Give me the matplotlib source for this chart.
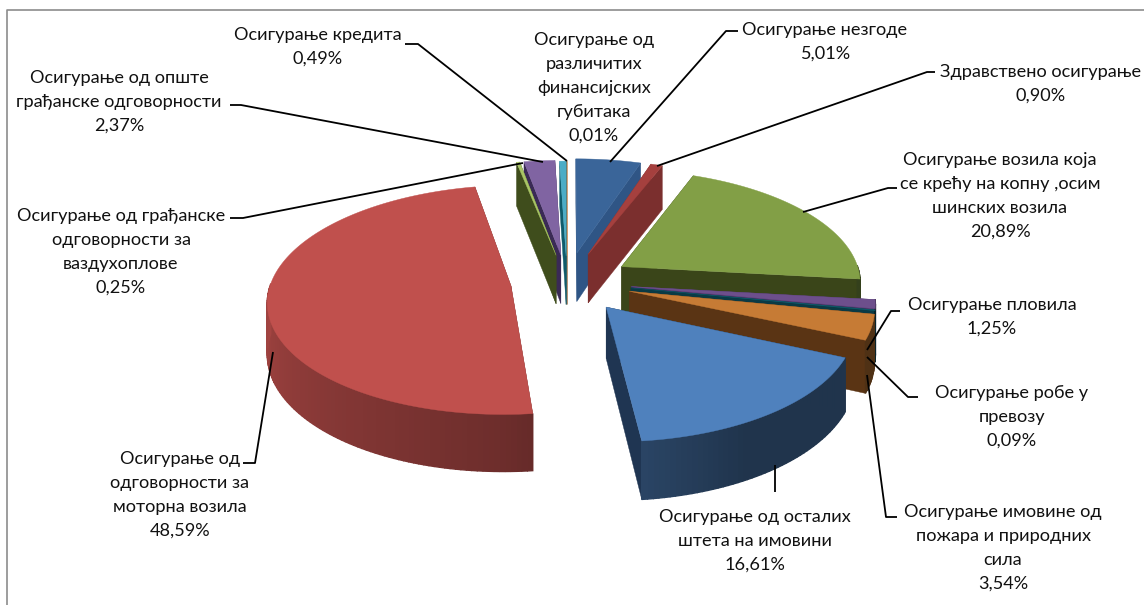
import numpy as np
import matplotlib
matplotlib.use("Agg")
import matplotlib.pyplot as plt
from matplotlib.colors import to_rgb

plt.rcParams['font.family'] = ['Lato', 'Open Sans', 'DejaVu Sans']

# slices, clockwise from the top
labels = [
    "Осигурање незгоде",
    "Здравствено осигурање",
    "Осигурање возила која\nсе крећу на копну ,осим\nшинских возила",
    "Осигурање пловила",
    "Осигурање робе у\nпревозу",
    "Осигурање имовине од\nпожара и природних\nсила",
    "Осигурање од осталих\nштета на имовини",
    "Осигурање од\nодговорности за\nмоторна возила",
    "Осигурање од грађанске\nодговорности за\nваздухоплове",
    "Осигурање од опште\nграђанске одговорности",
    "Осигурање кредита",
    "Осигурање од\nразличитих\nфинансијских\nгубитака",
]
shares = [5.01, 0.90, 20.89, 1.25, 0.09, 3.54, 16.61, 48.59, 0.25, 2.37, 0.49, 0.01]
share_text = ["5,01%", "0,90%", "20,89%", "1,25%", "0,09%", "3,54%",
              "16,61%", "48,59%", "0,25%", "2,37%", "0,49%", "0,01%"]

top_colors = ["#3A6599", "#A5403E", "#829F46", "#6D4F8C", "#0F5B6B", "#C67B35",
              "#4F81BD", "#C0504D", "#A9C566", "#8064A2", "#4BACC6", "#F79646"]
face_colors = ["#2F5585", "#7B2F2E", "#3A4519", "#4A3566", "#0A3A45", "#5A3414",
               "#1F3552", "#6E2B2A", "#3F4D1C", "#3A2A55", "#0F5B6B", "#8A5020"]
explode = [0.27, 0.27, 0.27, 0.27, 0.27, 0.27, 0.27, 0.235, 0.25, 0.25, 0.24, 0.24]

# label centres and leader lines, in picture pixels
label_pos = [(825, 42), (1041, 84), (1000, 196), (992, 317), (1012, 417), (1003, 548),
             (755, 541), (180, 495), (121, 252), (119, 102), (318, 47), (594, 88)]
leaders = [
    [(738, 31), (726, 31), (610, 162)],
    [(935, 72), (927, 72), (657, 166)],
    [(897, 188), (888, 188), (803, 212)],
    [(900, 311), (891, 311), (867, 350)],
    [(918, 397), (908, 397), (867, 357)],
    [(897, 517), (886, 517), (867, 375)],
    [(775, 492), (775, 465)],
    [(243, 463), (255, 463), (273, 352)],
    [(230, 218), (243, 218), (523, 163)],
    [(230, 105), (241, 105), (543, 162)],
    [(405, 44), (418, 44), (567, 161)],
]

# view of the tilted pie
CX, CY = 567, 282
A, B = 240, 112
K = 0.12
DEPTH = 50


def project(x, y):
    s = 1 / (1 - K * y)
    return CX + A * x * s, CY + B * y * s, s


def wall_shade(t):
    return np.interp(np.degrees(t), [0, 150, 180, 270, 360], [0.40, 0.40, 0.57, 0.85, 0.85])


fig = plt.figure(figsize=(11.44, 6.05), dpi=100)
ax = fig.add_axes([0, 0, 1, 1])
ax.set_xlim(0, 1144)
ax.set_ylim(605, 0)
ax.axis("off")

# frame, open on the right and at the bottom
ax.plot([7, 7, 1144], [605, 10, 10], color="#8c8c8c", lw=1.2)

edges = np.cumsum([0] + shares) / sum(shares) * 2 * np.pi
mids = (edges[:-1] + edges[1:]) / 2

# back slices first
for i in np.argsort(-np.cos(mids)):
    t0, t1, m = edges[i], edges[i + 1], mids[i]
    ox, oy = explode[i] * np.sin(m), -explode[i] * np.cos(m)
    ts = np.linspace(t0, t1, max(3, int((t1 - t0) / 0.02)))
    px, py, ps = project(ox + np.sin(ts), oy - np.cos(ts))
    ax_, ay_, as_ = project(ox, oy)

    # cut faces
    for k in (0, -1):
        ax.fill([ax_, px[k], px[k], ax_],
                [ay_, py[k], py[k] + DEPTH * ps[k], ay_ + DEPTH * as_],
                color=face_colors[i], lw=0.3, zorder=2)

    # outer wall, only the part that faces us, shaded piece by piece
    base = np.array(to_rgb(top_colors[i]))
    for k in range(len(ts) - 1):
        if np.cos(ts[k]) > 0.02:
            continue
        ax.fill([px[k], px[k + 1], px[k + 1], px[k]],
                [py[k], py[k + 1], py[k + 1] + DEPTH * ps[k + 1], py[k] + DEPTH * ps[k]],
                color=base * wall_shade(ts[k]), lw=1.0, zorder=2)

    # top
    ax.fill(np.r_[ax_, px], np.r_[ay_, py], color=top_colors[i], lw=0.3, zorder=2)

for line in leaders:
    xs, ys = zip(*line)
    ax.plot(xs, ys, color="black", lw=1.3, zorder=3, solid_capstyle="butt")

for name, val, (x, y) in zip(labels, share_text, label_pos):
    ax.text(x, y, name + "\n" + val, ha="center", va="center", fontsize=13.1,
            linespacing=1.62, color="#111111", zorder=4)

fig.savefig("out.png", dpi=100)
